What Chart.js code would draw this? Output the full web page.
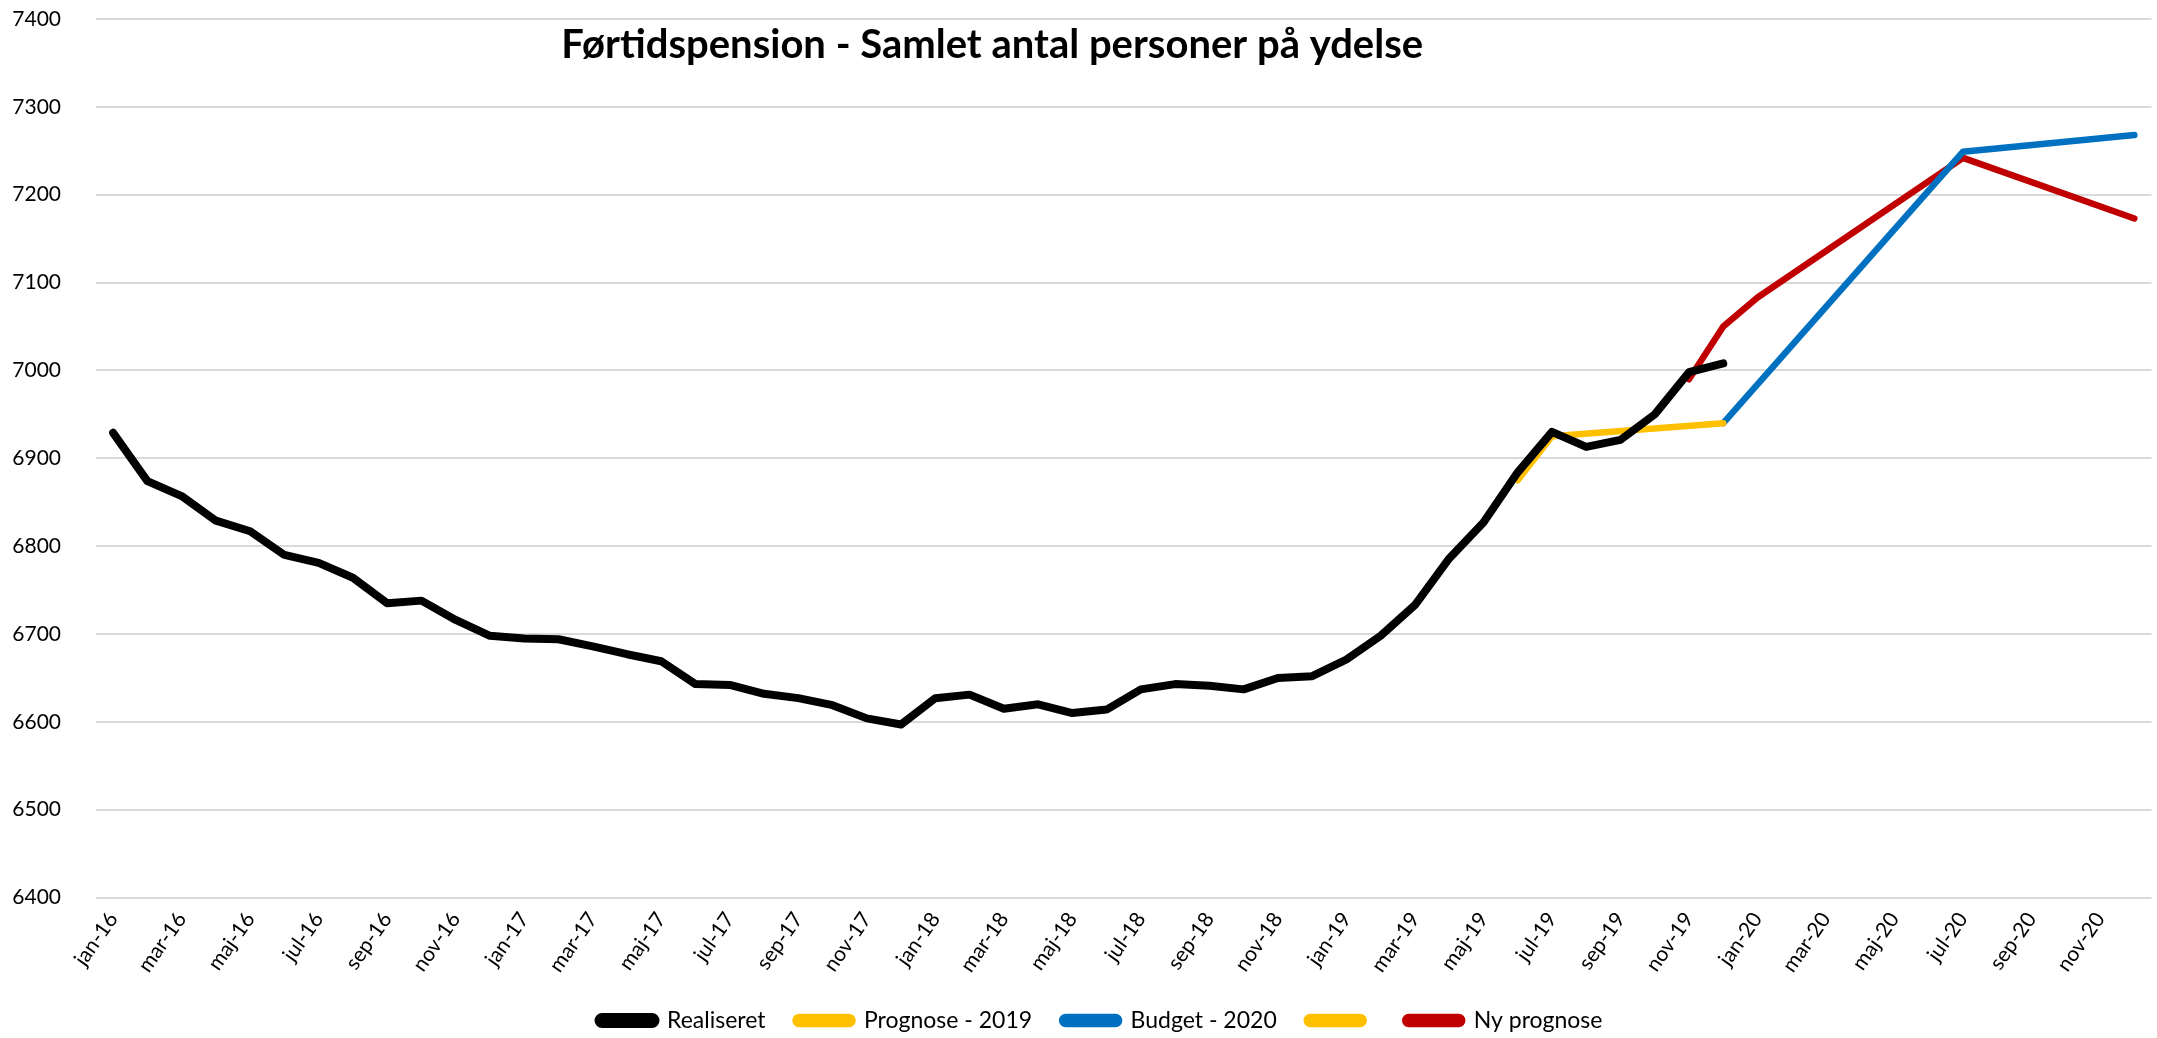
<!DOCTYPE html>
<html lang="da">
  <head>
    <meta charset="UTF-8">
    <script src="https://cdn.jsdelivr.net/npm/chart.js"></script>
    <style>
      html, body { margin: 0; padding: 0; background: #fff; }
      #wrap { width: 2157px; height: 1038px; position: relative; }
    </style>
  </head>
  <body>
    <div id="wrap"><canvas id="pensionChart"></canvas></div>

    <script>
      // tick labels: jan-16 ... dec-20
      const monthNames = ['jan', 'feb', 'mar', 'apr', 'maj', 'jun', 'jul', 'aug', 'sep', 'okt', 'nov', 'dec'];
      const years = ['16', '17', '18', '19', '20'];
      const labels = [];
      years.forEach(y => monthNames.forEach(m => labels.push(m + '-' + y)));

      // monthly values, 60 slots (null = no value)
      const realiseret = [
        6929, 6874, 6857, 6829, 6817, 6790, 6781, 6764, 6735, 6738, 6716, 6698,
        6695, 6694, 6686, 6677, 6669, 6643, 6642, 6632, 6627, 6619, 6604, 6597,
        6627, 6631, 6615, 6620, 6610, 6614, 6637, 6643, 6641, 6637, 6650, 6652,
        6671, 6698, 6733, 6786, 6827, 6884, 6930, 6913, 6921, 6950, 6998, 7008,
        null, null, null, null, null, null, null, null, null, null, null, null
      ];
      const prognose2019 = [
        null, null, null, null, null, null, null, null, null, null, null, null,
        null, null, null, null, null, null, null, null, null, null, null, null,
        null, null, null, null, null, null, null, null, null, null, null, null,
        null, null, null, null, null, null, 6925, null, null, null, null, 6940,
        null, null, null, null, null, null, null, null, null, null, null, null
      ];
      const prognoseStart = [
        null, null, null, null, null, null, null, null, null, null, null, null,
        null, null, null, null, null, null, null, null, null, null, null, null,
        null, null, null, null, null, null, null, null, null, null, null, null,
        null, null, null, null, null, 6875, 6925, null, null, null, null, null,
        null, null, null, null, null, null, null, null, null, null, null, null
      ];
      const budget2020 = [
        null, null, null, null, null, null, null, null, null, null, null, null,
        null, null, null, null, null, null, null, null, null, null, null, null,
        null, null, null, null, null, null, null, null, null, null, null, null,
        null, null, null, null, null, null, null, null, null, null, null, 6940,
        null, null, null, null, null, null, 7249, null, null, null, null, 7268
      ];
      const nyPrognose = [
        null, null, null, null, null, null, null, null, null, null, null, null,
        null, null, null, null, null, null, null, null, null, null, null, null,
        null, null, null, null, null, null, null, null, null, null, null, null,
        null, null, null, null, null, null, null, null, null, null, 6990, 7050,
        7083, null, null, null, null, null, 7242, null, null, null, null, 7173
      ];

      const yMin = 6400;
      const yMax = 7400;
      const yStep = 100;
      const titleText = 'Førtidspension - Samlet antal personer på ydelse';

      function lineSet(label, data, color, width) {
        return {
          label: label,
          data: data,
          borderColor: color,
          backgroundColor: color,
          borderWidth: width,
          borderCapStyle: 'round',
          borderJoinStyle: 'round',
          pointRadius: 0,
          pointHoverRadius: 0,
          spanGaps: true,
          tension: 0
        };
      }

      // title sits inside the plot area, like the original
      const innerTitle = {
        id: 'innerTitle',
        afterDraw(chart) {
          const a = chart.chartArea;
          const c = chart.ctx;
          c.save();
          c.font = 'bold 40px Lato';
          c.fillStyle = '#000';
          c.textAlign = 'center';
          c.textBaseline = 'middle';
          c.fillText(titleText, a.left + a.width * 0.436, a.top + 26);
          c.restore();
        }
      };

      // legend in the original sits a bit right of the canvas centre
      const legendNudge = {
        id: 'legendNudge',
        afterLayout(chart) {
          chart.legend.left += 22;
          chart.legend.right += 22;
        }
      };

      const ctx = document.getElementById('pensionChart').getContext('2d');

      new Chart(ctx, {
        type: 'line',
        data: {
          labels: labels,
          datasets: [
            lineSet('Realiseret', realiseret, '#000000', 8),
            lineSet('Prognose - 2019', prognose2019, '#FFC000', 6.5),
            lineSet('Budget - 2020', budget2020, '#0070C0', 6.5),
            lineSet('', prognoseStart, '#FFC000', 6.5),
            lineSet('Ny prognose', nyPrognose, '#C00000', 6.5)
          ]
        },
        options: {
          responsive: true,
          maintainAspectRatio: false,
          animation: false,
          layout: { padding: { top: 19, right: 0, bottom: -4, left: 0 } },
          plugins: {
            title: { display: false },
            tooltip: { enabled: false },
            legend: {
              position: 'bottom',
              labels: {
                color: '#000',
                font: { family: 'Lato', size: 23 },
                boxWidth: 57,
                boxHeight: 7,
                useBorderRadius: true,
                borderRadius: 3.5,
                padding: 30
              }
            }
          },
          scales: {
            x: {
              offset: true,
              grid: { display: false },
              border: { display: false },
              ticks: {
                autoSkip: false,
                maxRotation: 55,
                minRotation: 55,
                color: '#000',
                font: { family: 'Lato', size: 21 },
                padding: 2,
                callback: (v, i) => (i % 2 === 0 ? labels[i] : '')
              }
            },
            y: {
              min: yMin,
              max: yMax,
              border: { display: false },
              grid: {
                color: '#d9d9d9',
                lineWidth: 2,
                drawTicks: true,
                tickLength: 35,
                tickColor: 'rgba(0,0,0,0)'
              },
              afterFit: scale => { scale.width = 96; },
              ticks: {
                stepSize: yStep,
                color: '#000',
                font: { family: 'Lato', size: 21 },
                padding: 0,
                callback: v => String(v)
              }
            }
          }
        },
        plugins: [innerTitle, legendNudge]
      });
    </script>
  </body>
</html>
